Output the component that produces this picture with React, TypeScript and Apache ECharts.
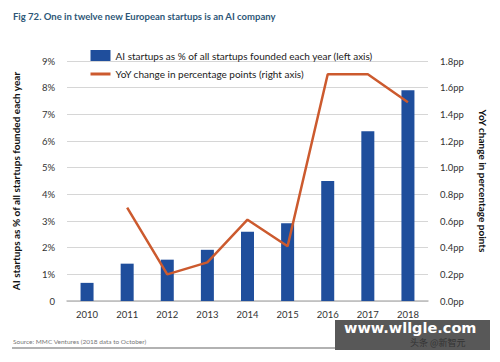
import React, { useEffect, useRef } from "react";
import * as echarts from "echarts";

const years = ["2010", "2011", "2012", "2013", "2014", "2015", "2016", "2017", "2018"];
const aiShare = [0.68, 1.4, 1.55, 1.92, 2.6, 2.92, 4.5, 6.37, 7.9];
const yoyChange: (number | null)[] = [null, 0.7, 0.2, 0.29, 0.61, 0.41, 1.7, 1.7, 1.49];
const leftTicks = ["0", "1%", "2%", "3%", "4%", "5%", "6%", "7%", "8%", "9%"];

const font = "Lato";

export default function App() {
  const ref = useRef<HTMLDivElement>(null);
  useEffect(() => {
    const chart = echarts.init(ref.current!, null, { renderer: "svg" });
    chart.setOption({
      animation: false,
      backgroundColor: "#ffffff",
      textStyle: { fontFamily: font },
      grid: { left: 67, right: 72, top: 61, bottom: 61 },
      legend: {
        orient: "vertical",
        left: 84,
        top: 45,
        itemGap: 8,
        itemWidth: 20,
        itemHeight: 11,
        textStyle: { fontSize: 10, color: "#222", fontFamily: font },
        data: [
          { name: "AI startups as % of all startups founded each year (left axis)", icon: "rect", itemStyle: { color: "#1f4e9c" } },
          { name: "YoY change in percentage points (right axis)", itemStyle: { opacity: 0 }, lineStyle: { color: "#cc5a2e", width: 3 } },
        ],
      },
      xAxis: {
        type: "category",
        data: years,
        boundaryGap: true,
        axisLine: { show: true, lineStyle: { color: "#bbb", width: 1.5 } },
        axisTick: { show: false },
        axisLabel: { color: "#333", fontSize: 9.5, margin: 8 },
      },
      yAxis: [
        {
          type: "value",
          min: 0,
          max: 9,
          interval: 1,
          name: "AI startups as % of all startups founded each year",
          nameLocation: "middle",
          nameGap: 46,
          nameTextStyle: { fontSize: 10, fontWeight: "bold", color: "#111" },
          axisLabel: {
            color: "#333",
            fontSize: 9.5,
            margin: 12,
            formatter: (v: number) => leftTicks[Math.round(v)] ?? "",
          },
          splitLine: { lineStyle: { color: "#d6d6d6", width: 1 } },
          axisLine: { show: false },
          axisTick: { show: false },
        },
        {
          type: "value",
          min: 0,
          max: 1.8,
          interval: 0.2,
          position: "right",
          name: "YoY change in percentage points",
          nameLocation: "middle",
          nameGap: 50,
          nameRotate: -90,
          nameTextStyle: { fontSize: 10, fontWeight: "bold", color: "#111" },
          axisLabel: {
            color: "#333",
            fontSize: 9.5,
            margin: 12,
            formatter: (v: number) => v.toFixed(1) + "pp",
          },
          splitLine: { show: false },
          axisLine: { show: false },
          axisTick: { show: false },
        },
      ],
      series: [
        {
          name: "AI startups as % of all startups founded each year (left axis)",
          type: "bar",
          data: aiShare,
          yAxisIndex: 0,
          barWidth: 13,
          itemStyle: { color: "#1f4e9c" },
        },
        {
          name: "YoY change in percentage points (right axis)",
          type: "line",
          data: yoyChange,
          yAxisIndex: 1,
          symbol: "none",
          lineStyle: { color: "#cc5a2e", width: 2.5 },
          itemStyle: { color: "#cc5a2e" },
        },
      ],
      graphic: [
        { type: "line", shape: { x1: 13, y1: 7, x2: 500, y2: 7 }, style: { stroke: "#999", lineWidth: 1 } },
        {
          type: "text",
          left: 13,
          top: 11,
          style: { text: "Fig 72. One in twelve new European startups is an AI company", fontSize: 9.5, fontWeight: "bold", fill: "#2e5778", fontFamily: font },
        },
        {
          type: "text",
          left: 13,
          top: 338,
          style: { text: "Source: MMC Ventures (2018 data to October)", fontSize: 6.5, fill: "#777", fontFamily: font },
        },
        { type: "line", shape: { x1: 12, y1: 348, x2: 490, y2: 348 }, style: { stroke: "#999", lineWidth: 1.5 } },
        { type: "rect", shape: { x: 335, y: 320, width: 155, height: 30 }, style: { fill: "#585858" } },
        {
          type: "text",
          left: 344,
          top: 320,
          style: { text: "www.wllgle.com", fontSize: 14.5, fontWeight: "bold", fill: "#ffffff", fontFamily: "DejaVu Sans" },
        },
        {
          type: "text",
          left: 410,
          top: 338,
          style: { text: "头条 @新智元", fontSize: 9, fill: "#333", fontFamily: "Noto Sans CJK SC" },
        },
      ],
    });
    return () => chart.dispose();
  }, []);
  return <div ref={ref} style={{ width: 500, height: 362, margin: -8 }} />;
}
